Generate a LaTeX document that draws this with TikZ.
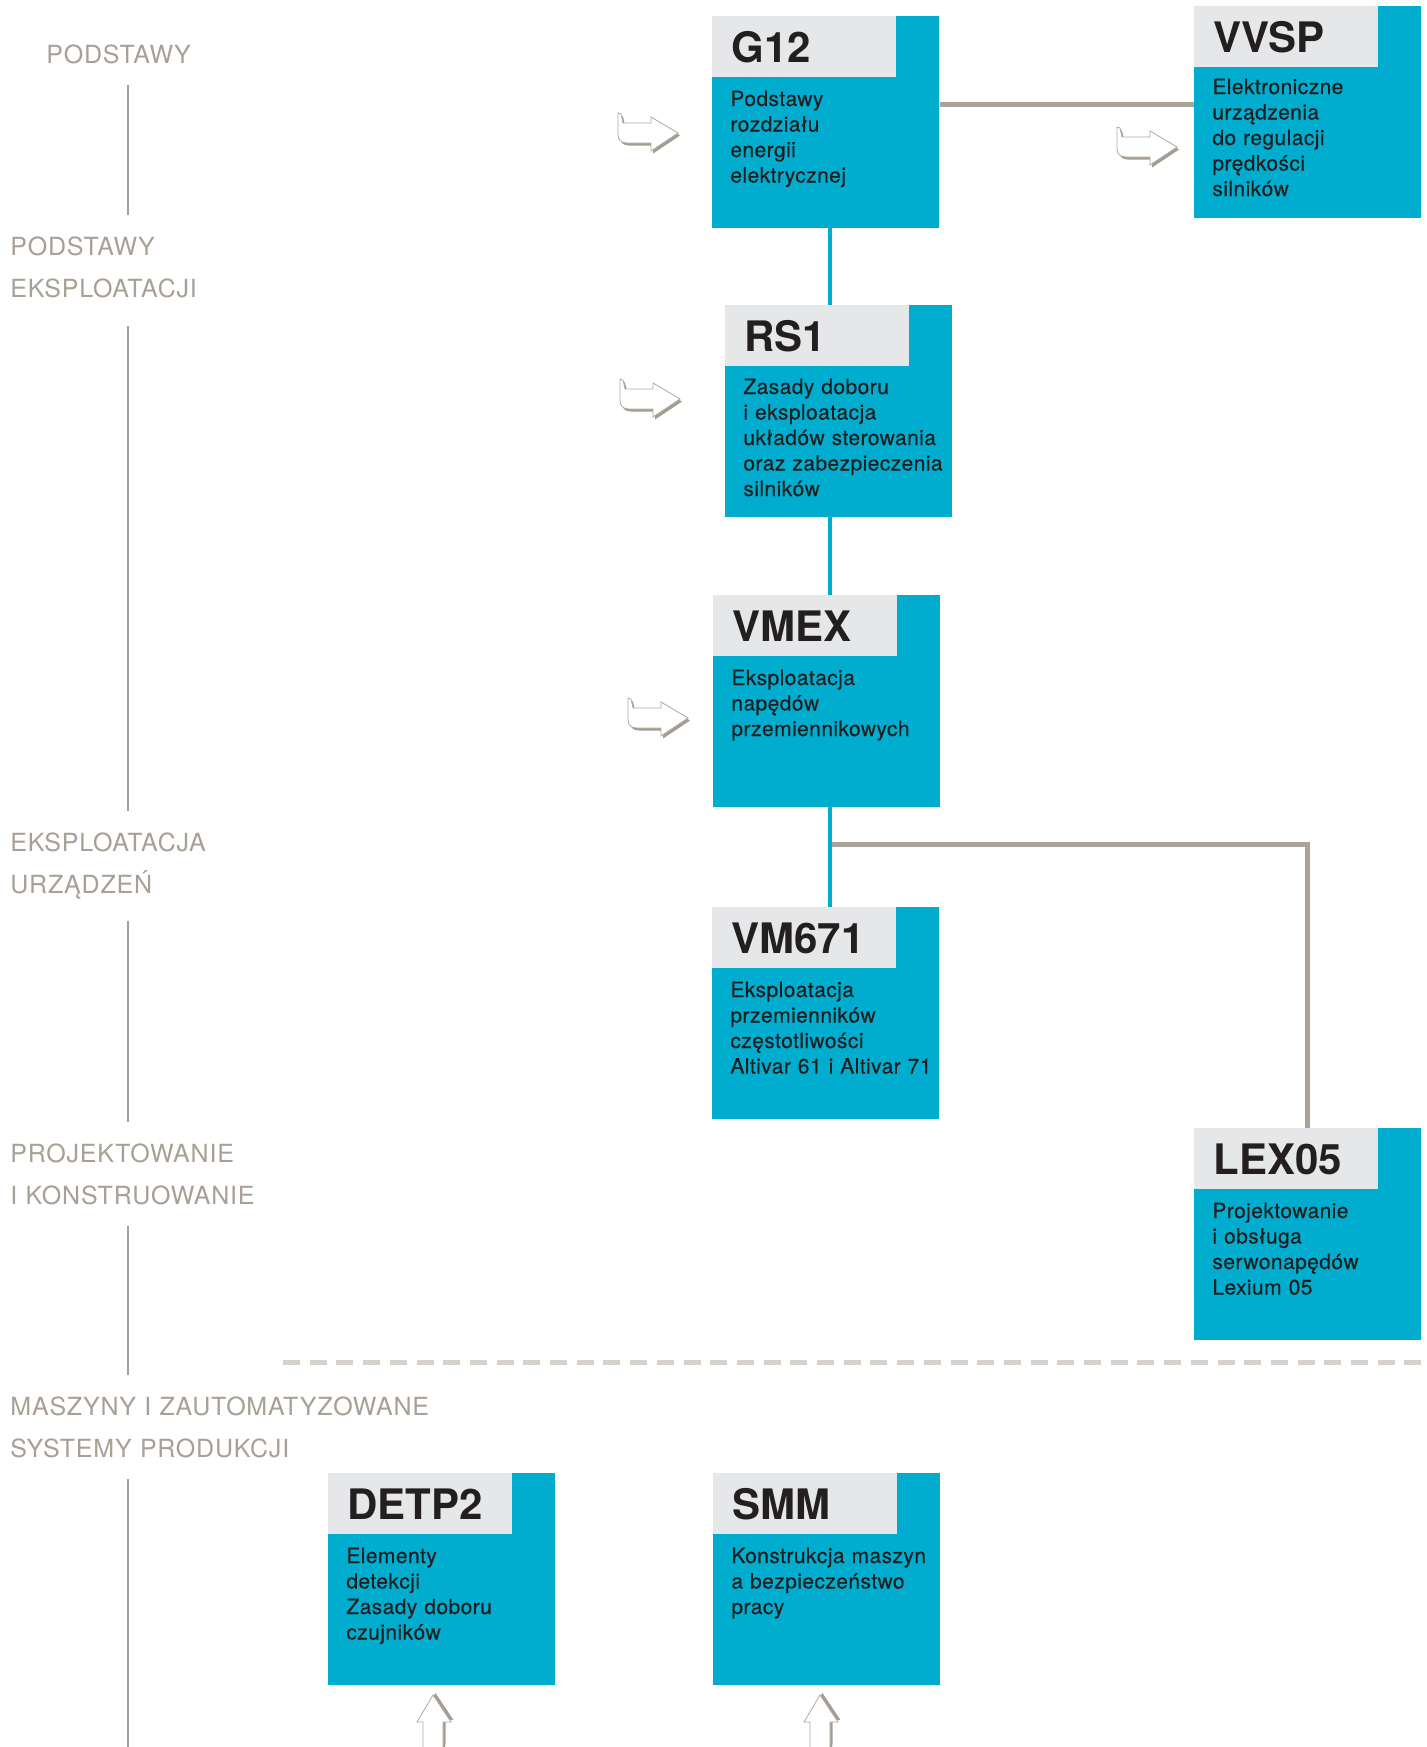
\documentclass[tikz,border=0pt]{standalone}
\usepackage{fontspec}
\setmainfont{TeX Gyre Heros}
\newfontfamily\blurbfamily{TeX Gyre Heros}[LetterSpace=2, FakeBold=0.35]
\newfontfamily\stagefamily{TeX Gyre Heros}[LetterSpace=3.2]
\usetikzlibrary{positioning}

\definecolor{coursecyan}{RGB}{0,173,206}
\definecolor{headgray}{RGB}{230,231,232}
\definecolor{ink}{RGB}{35,31,32}
\definecolor{linkgray}{RGB}{170,163,154}
\definecolor{stagegray}{RGB}{168,160,150}
\definecolor{spinegray}{RGB}{160,160,160}
\definecolor{dashgray}{RGB}{214,209,203}
\definecolor{hookline}{RGB}{176,168,159}
\definecolor{hookshade}{RGB}{164,156,147}

\newcommand{\codefont}{\bfseries\fontsize{21}{25}\selectfont}
\newcommand{\blurbfont}{\blurbfamily\fontsize{10.5}{12.75}\selectfont}
\newcommand{\stagefont}{\stagefamily\fontsize{12.5}{21.25}\selectfont}

\tikzset{
  course/.style={fill=coursecyan, minimum width=113.5pt, minimum height=105.75pt, inner sep=0pt, anchor=north west},
  coursecode/.style={fill=headgray, text=ink, font=\codefont, text width=73pt, inner xsep=9.5pt, inner ysep=0pt, minimum height=30.5pt, align=left, anchor=north west},
  blurb/.style={text=ink, font=\blurbfont, text width=110pt, inner sep=0pt, align=left, anchor=base west},
  stage/.style={text=stagegray, font=\stagefont, text width=230pt, inner sep=0pt, align=left, anchor=base west},
  link/.style={draw=linkgray, line width=2.5pt},
  trunk/.style={draw=coursecyan, line width=2.3pt},
  spine/.style={draw=spinegray, line width=0.75pt, shorten <=10.5pt, shorten >=10.5pt},
  divider/.style={draw=dashgray, line width=2.5pt, dash pattern=on 8.5pt off 4.85pt},
  bentarrow/.pic={
    \fill[hookshade, shift={(2,2.5)}] (0,0) -- (3,1) -- (5,10) -- (33,10) -- (33,4) -- (60,20) -- (33,38) -- (33,30) -- (9,30) .. controls (3,30) and (0,27) .. (0,21) -- cycle;
    \filldraw[fill=white, draw=hookline, line width=0.4pt] (0,0) -- (3,1) -- (5,10) -- (33,10) -- (33,4) -- (60,20) -- (33,38) -- (33,30) -- (9,30) .. controls (3,30) and (0,27) .. (0,21) -- cycle;
  }
}

\begin{document}
\begin{tikzpicture}[x=0.5pt, y=-0.5pt]
\useasboundingbox[fill=white] (0,0) rectangle (1427,1747);

% levels on the left
\node[stage] (lab1) at (46,63) {PODSTAWY};
\node[stage] (lab2) at (10,255) {PODSTAWY\\EKSPLOATACJI};
\node[stage] (lab3) at (10,851) {EKSPLOATACJA\\URZĄDZEŃ};
\node[stage] (lab4) at (10,1162) {PROJEKTOWANIE\\I KONSTRUOWANIE};
\node[stage] (lab5) at (10,1415) {MASZYNY I ZAUTOMATYZOWANE\\SYSTEMY PRODUKCJI};
\coordinate (spine) at (128,0);
\coordinate (spineend) at (128,1747);
\draw[spine] (lab1.south -| spine) -- (lab2.north -| spine);
\draw[spine, shorten <=14pt] (lab2.south -| spine) -- (lab3.north -| spine);
\draw[spine] (lab3.south -| spine) -- (lab4.north -| spine);
\draw[spine] (lab4.south -| spine) -- (lab5.north -| spine);
\draw[spine, shorten >=0pt] (lab5.south -| spine) -- (spineend);

% courses
\node[course] (g12) at (712,16) {};
\node[coursecode] (g12h) at (g12.north west) {G12};
\node[blurb] (g12t) at ([shift={(18,90)}]g12.north west) {Podstawy\\rozdziału\\energii\\elektrycznej};

\node[course] (vvsp) at (1194,6) {};
\node[coursecode] (vvsph) at (vvsp.north west) {VVSP};
\node[blurb] (vvspt) at ([shift={(18,88)}]vvsp.north west) {Elektroniczne\\urządzenia\\do regulacji\\prędkości\\silników};

\node[course] (rs1) at (725,305) {};
\node[coursecode] (rs1h) at (rs1.north west) {RS1};
\node[blurb] (rs1t) at ([shift={(18,89)}]rs1.north west) {Zasady doboru\\i eksploatacja\\układów sterowania\\oraz zabezpieczenia\\silników};

\node[course] (vmex) at (713,595) {};
\node[coursecode] (vmexh) at (vmex.north west) {VMEX};
\node[blurb] (vmext) at ([shift={(18,90)}]vmex.north west) {Eksploatacja\\napędów\\przemiennikowych};

\node[course] (vm671) at (712,907) {};
\node[coursecode] (vm671h) at (vm671.north west) {VM671};
\node[blurb] (vm671t) at ([shift={(18,90)}]vm671.north west) {Eksploatacja\\przemienników\\częstotliwości\\Altivar 61 i Altivar 71};

\node[course] (lex05) at (1194,1128) {};
\node[coursecode] (lex05h) at (lex05.north west) {LEX05};
\node[blurb] (lex05t) at ([shift={(18,90)}]lex05.north west) {Projektowanie\\i obsługa\\serwonapędów\\Lexium 05};

\node[course] (detp2) at (328,1473) {};
\node[coursecode] (detp2h) at (detp2.north west) {DETP2};
\node[blurb] (detp2t) at ([shift={(18,90)}]detp2.north west) {Elementy\\detekcji\\Zasady doboru\\czujników};

\node[course] (smm) at (713,1473) {};
\node[coursecode] (smmh) at (smm.north west) {SMM};
\node[blurb] (smmt) at ([shift={(18,90)}]smm.north west) {Konstrukcja maszyn\\a bezpieczeństwo\\pracy};

% connections
\coordinate (tap) at (0,104.5);
\coordinate (trunkx) at (830,0);
\coordinate (fork) at (830,844.5);
\draw[link] (g12.east |- tap) -- (vvsp.west |- tap);
\draw[link] (fork) -| (lex05.north);
\draw[trunk] (g12.south -| trunkx) -- (rs1.north -| trunkx);
\draw[trunk] (rs1.south -| trunkx) -- (vmex.north -| trunkx);
\draw[trunk] (vmex.south -| trunkx) -- (vm671.north -| trunkx);

% divider
\coordinate (cutl) at (283,1362.5);
\coordinate (cutr) at (1427,1362.5);
\draw[divider] (cutl) -- (cutr);

% entry arrows
\pic at (618,113) {bentarrow};
\pic at (1117,127) {bentarrow};
\pic at (620,379) {bentarrow};
\pic at (628,698) {bentarrow};
\pic[rotate=90] at (413,1755) {bentarrow};
\pic[rotate=90] at (800,1755) {bentarrow};
\end{tikzpicture}
\end{document}
